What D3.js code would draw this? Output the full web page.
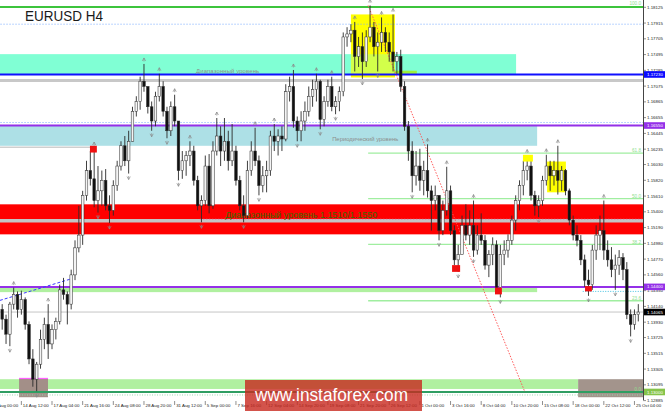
<!DOCTYPE html>
<html><head><meta charset="utf-8">
<script src="https://cdn.jsdelivr.net/npm/d3@7"></script>
<style>body{margin:0;background:#fff;}svg{display:block;}</style>
</head><body>
<svg id="c" width="665" height="411"></svg>
<script>
// ---------- DATA (EURUSD, 8h candles) ----------
const firstOpen = 1.1410;
const highs = [
1.1417,1.1403,1.1420,1.1439,1.1434,1.1435,1.1426,1.1394,1.1357,1.1340,
1.1383,1.1399,1.1417,1.1390,1.1399,1.1443,1.1452,1.1434,1.1463,1.1502,
1.1548,1.1568,1.1608,1.1621,1.1625,1.1601,1.1595,1.1597,1.1562,1.1582,
1.1608,1.1634,1.1641,1.1648,1.1680,1.1694,1.1720,1.1737,1.1707,1.1687,
1.1700,1.1724,1.1714,1.1680,1.1687,1.1696,1.1661,1.1621,1.1621,1.1634,
1.1628,1.1588,1.1562,1.1615,1.1617,1.1634,1.1665,1.1654,1.1665,1.1648,
1.1657,1.1628,1.1588,1.1562,1.1608,1.1634,1.1652,1.1615,1.1601,1.1608,
1.1648,1.1657,1.1650,1.1654,1.1710,1.1720,1.1729,1.1667,1.1674,1.1687,
1.1707,1.1716,1.1724,1.1716,1.1694,1.1716,1.1720,1.1694,1.1707,1.1779,
1.1786,1.1790,1.1793,1.1773,1.1779,1.1782,1.1815,1.1793,1.1779,1.1799,
1.1786,1.1779,1.1803,1.1753,1.1756,1.1714,1.1661,1.1634,1.1621,1.1624,
1.1608,1.1630,1.1575,1.1575,1.1562,1.1555,1.1600,1.1575,1.1522,1.1496,
1.1535,1.1550,1.1542,1.1555,1.1522,1.1538,1.1509,1.1489,1.1506,1.1502,
1.1496,1.1502,1.1510,1.1535,1.1562,1.1582,1.1608,1.1615,1.1608,1.1568,
1.1562,1.1588,1.1616,1.1608,1.1608,1.1628,1.1601,1.1597,1.1571,1.1535,
1.1522,1.1509,1.1483,1.1463,1.1496,1.1522,1.1535,1.1555,1.1502,1.1493,
1.1483,1.1489,1.1485,1.1473,1.1410,1.1410,1.1417];
const lows = [
1.1383,1.1364,1.1361,1.1410,1.1399,1.1403,1.1383,1.1337,1.1307,1.1301,
1.1331,1.1357,1.1344,1.1357,1.1370,1.1390,1.1423,1.1390,1.1410,1.1449,
1.1486,1.1496,1.1555,1.1575,1.1546,1.1539,1.1548,1.1542,1.1525,1.1535,
1.1568,1.1595,1.1601,1.1591,1.1634,1.1667,1.1676,1.1700,1.1671,1.1648,
1.1654,1.1687,1.1667,1.1638,1.1641,1.1654,1.1582,1.1584,1.1588,1.1601,
1.1575,1.1542,1.1526,1.1548,1.1538,1.1544,1.1615,1.1601,1.1608,1.1595,
1.1601,1.1575,1.1542,1.1526,1.1531,1.1588,1.1601,1.1562,1.1566,1.1566,
1.1588,1.1621,1.1615,1.1621,1.1634,1.1687,1.1652,1.1634,1.1634,1.1648,
1.1667,1.1680,1.1687,1.1650,1.1654,1.1680,1.1674,1.1670,1.1674,1.1694,
1.1760,1.1766,1.1727,1.1733,1.1717,1.1733,1.1766,1.1747,1.1727,1.1753,
1.1753,1.1740,1.1727,1.1724,1.1700,1.1648,1.1608,1.1566,1.1575,1.1568,
1.1562,1.1559,1.1515,1.1542,1.1502,1.1509,1.1535,1.1509,1.1469,1.1460,
1.1483,1.1502,1.1496,1.1480,1.1483,1.1496,1.1463,1.1453,1.1469,1.1434,
1.1426,1.1469,1.1479,1.1496,1.1515,1.1542,1.1562,1.1582,1.1555,1.1535,
1.1533,1.1548,1.1575,1.1568,1.1575,1.1563,1.1568,1.1562,1.1522,1.1502,
1.1494,1.1469,1.1440,1.1428,1.1436,1.1476,1.1489,1.1476,1.1467,1.1453,
1.1436,1.1456,1.1449,1.1397,1.1374,1.1383,1.1394];
const closes = [
1.1397,1.1377,1.1417,1.1430,1.1410,1.1423,1.1390,1.1344,1.1317,1.1337,
1.1370,1.1390,1.1364,1.1383,1.1394,1.1436,1.1430,1.1417,1.1456,1.1492,
1.1509,1.1562,1.1595,1.1584,1.1555,1.1568,1.1582,1.1548,1.1542,1.1575,
1.1601,1.1628,1.1608,1.1634,1.1674,1.1687,1.1714,1.1707,1.1680,1.1661,
1.1694,1.1707,1.1674,1.1648,1.1680,1.1661,1.1595,1.1608,1.1615,1.1621,
1.1582,1.1548,1.1555,1.1601,1.1548,1.1621,1.1641,1.1621,1.1634,1.1608,
1.1621,1.1582,1.1548,1.1535,1.1595,1.1621,1.1608,1.1575,1.1588,1.1595,
1.1641,1.1634,1.1641,1.1637,1.1700,1.1707,1.1661,1.1648,1.1661,1.1674,
1.1694,1.1703,1.1714,1.1663,1.1687,1.1707,1.1680,1.1687,1.1700,1.1773,
1.1777,1.1782,1.1747,1.1760,1.1740,1.1773,1.1786,1.1760,1.1766,1.1779,
1.1766,1.1753,1.1740,1.1747,1.1707,1.1654,1.1621,1.1588,1.1601,1.1582,
1.1595,1.1568,1.1555,1.1562,1.1515,1.1542,1.1568,1.1515,1.1476,1.1483,
1.1522,1.1509,1.1522,1.1489,1.1509,1.1502,1.1469,1.1483,1.1496,1.1439,
1.1483,1.1489,1.1502,1.1529,1.1555,1.1575,1.1595,1.1601,1.1562,1.1548,
1.1555,1.1582,1.1601,1.1588,1.1595,1.1582,1.1595,1.1568,1.1529,1.1509,
1.1502,1.1476,1.1449,1.1443,1.1489,1.1509,1.1515,1.1489,1.1476,1.1463,
1.1469,1.1479,1.1463,1.1403,1.1390,1.1403,1.14065];

const xTickLabels = ["10 Aug 00:00","14 Aug 12:00","17 Aug 04:00","21 Aug 16:00","24 Aug 08:00","28 Aug 20:00","31 Aug 12:00","5 Sep 00:00","7 Sep 16:00","12 Sep 04:00","14 Sep 20:00","19 Sep 08:00","21 Sep 20:00","26 Sep 12:00","1 Oct 00:00","3 Oct 16:00","8 Oct 04:00","10 Oct 20:00","15 Oct 08:00","18 Oct 00:00","22 Oct 12:00","25 Oct 04:00"];
const xTickIndex = [-3,5,13,21,29,37,45,53,61,69,77,85,93,101,109,117,125,133,141,149,157,165];
const yTickLabels = ["1.18125","1.17915","1.17705","1.17495","1.17285","1.17075","1.16865","1.16655","1.16445","1.16235","1.16030","1.15820","1.15610","1.15400","1.15190","1.14980","1.14770","1.14560","1.14350","1.14140","1.13930","1.13725","1.13515","1.13305","1.13095","1.12885"];

// horizontal levels: [price, label]
const markedPrices = [[1.1723,"1.17230"],[1.1655,"1.16550"],[1.1440,"1.14400"],[1.14065,"1.14065"],[1.1300,"1.13000"]];
const fiboHigh = 1.1815, fiboLow = 1.1300, fiboStart = 95.5;
const fiboLevels = [100.0, 61.8, 50.0, 38.2, 23.6, 0.0];
// zones: [fromIndex, toIndex, topPrice, bottomPrice]
const zoneAqua = [-2, 134.1, 1.1750, 1.1723];
const zoneBlue = [-2, 139.6, 1.1655, 1.1628];
const zoneRed = [-2, 170, 1.1550, 1.1510];
const zoneGreenMid = [-2, 139.6, 1.1440, 1.1433];
const zoneGreenLow = [-2, 150.3, 1.1317, 1.1304];
const zoneBrownL = [4.4, 11.95, 1.1318, 1.1293];
const zoneBrownR = [150.3, 170, 1.1317, 1.1293];
const zoneYellowTop = [91.0, 102.5, 1.1803, 1.1719];
const zoneLime = [102.2, 108.2, 1.1728, 1.1723];
const zoneYellowMid = [142.2, 147.1, 1.1607, 1.1566];
const yellowSquares = [[135.9, 138.5, 1.1616, 1.1607]];
const redSquares = [[22.9,24.7,1.1628,1.1619],[117.4,119.5,1.1469,1.1460],[128.6,130.4,1.1439,1.1430],[152.1,153.9,1.1441,1.1434]];
const trendBlue = [[-0.6, 1.1422],[18.2, 1.1451]];
const trendRed = [[95.5, 1.1815],[136.4, 1.1300]];

// ---------- DRAW ----------
const FONT = "'Liberation Sans', Arial, sans-serif";
const svg = d3.select('#c');
const PR = 643, PB = 400;
const x = d3.scaleLinear().domain([0, closes.length - 1]).range([2.2, 638.3]);
const y = d3.scaleLinear().domain([1.12885, 1.18125]).range([400.6, 7.3]);
svg.append('rect').attr('width',665).attr('height',411).attr('fill','#fff');
svg.append('defs').append('clipPath').attr('id','clip').append('rect').attr('x',0).attr('y',0).attr('width',PR).attr('height',PB);
const g = svg.append('g').attr('clip-path','url(#clip)');

function zone(z, fill, op){
  return g.append('rect').attr('x',x(z[0])).attr('width',x(z[1])-x(z[0]))
    .attr('y',y(z[2])).attr('height',y(z[3])-y(z[2])).attr('fill',fill).attr('opacity',op==null?1:op);
}
function hline(i0,i1,p,stroke,w,dash){
  const l = g.append('line').attr('x1',x(i0)).attr('x2',x(i1)).attr('y1',y(p)).attr('y2',y(p))
    .attr('stroke',stroke).attr('stroke-width',w);
  if(dash) l.attr('stroke-dasharray',dash);
  return l;
}
const L = -2, R = 170;

zone(zoneAqua,'#80ffd4');
zone(zoneYellowTop,'#ffff00');
zone(zoneAqua,'#80ffd4',0.35);
zone(zoneLime,'#9cf03c');
zone(zoneBlue,'#ade0e6');
zone(zoneRed,'#ff0000');
hline(L,R,1.1528,'#c4c4c4',3.5);
hline(51.6,R,1.1530,'#d890b0',1,'1.5,1.5');
zone(zoneGreenMid,'#b0f0a0');
zone(zoneGreenLow,'#b0f0a0');
zone(zoneBrownL,'#a38f88');
g.append('line').attr('x1',x(zoneBrownL[0])).attr('x2',x(zoneBrownL[1])).attr('y1',y(zoneBrownL[2])).attr('y2',y(zoneBrownL[2])).attr('stroke','#ff60ff').attr('stroke-width',1.2);
zone(zoneBrownR,'#a3948c');
zone(zoneYellowMid,'#ffff00');

// level lines
hline(L,R,1.1813,'#3cc43c',2);
hline(L,R,1.1790,'#78aaff',1,'1,2');
hline(L,R,1.1715,'#c8c8c8',3);
hline(L,R,1.1723,'#1010ff',2);
hline(L,R,1.1659,'#78aaff',1,'1,2');
hline(L,R,1.1655,'#9430e8',2);
hline(L,24,1.1626,'#cfcfcf',1.5);
hline(L,R,1.1440,'#9430e8',2);
hline(151.5,R,1.1434,'#40c0e0',1,'1,1.5');
hline(L,R,1.14065,'#c6c6c6',1);
hline(L,R,1.1300,'#2f9e62',2);
hline(L,R,1.1296,'#9ad8b0',1,'1,1.5');

// fibonacci levels
const fiboPrice = lv => fiboLow + (fiboHigh - fiboLow) * lv / 100;
fiboLevels.filter(lv => lv !== 100 && lv !== 0).forEach(lv => hline(fiboStart, R, fiboPrice(lv), '#a0eea0', 1.3));

// level texts
g.append('text').attr('x',x(50.6)).attr('y',y(1.1725)).text('Диапазонный  уровень')
  .attr('font-family',FONT).attr('font-size',5.9).attr('fill','#8c8c8c').attr('textLength',63);
g.append('text').attr('x',x(86.1)).attr('y',y(1.1634)).text('Периодический уровень')
  .attr('font-family',FONT).attr('font-size',5.9).attr('fill','#8c8c8c');
g.append('text').attr('x',x(58.2)).attr('y',y(1.1532)).text('Диапазонный  уровень 1.1510/1.1550')
  .attr('font-family',FONT).attr('font-size',9).attr('fill','#3a6b00').attr('textLength',152).attr('lengthAdjust','spacingAndGlyphs');

// trend lines
const tl = d3.line().x(d=>x(d[0])).y(d=>y(d[1]));
g.append('path').attr('d',tl(trendRed)).attr('stroke','#ff5a5a').attr('stroke-width',1).attr('stroke-dasharray','1.5,1.5').attr('fill','none');
g.append('path').attr('d',tl(trendBlue)).attr('stroke','#3a3aff').attr('stroke-width',1).attr('stroke-dasharray','3,2').attr('fill','none');

// candles
const data = closes.map((c,i)=>{ const o = i ? closes[i-1] : firstOpen; return {i,o,c,h:Math.max(highs[i],o,c),l:Math.min(lows[i],o,c)}; });
g.selectAll('line.wick').data(data).join('line').attr('class','wick')
  .attr('x1',d=>x(d.i)).attr('x2',d=>x(d.i)).attr('y1',d=>y(d.h)).attr('y2',d=>y(d.l))
  .attr('stroke','#2a2a2a').attr('stroke-width',0.9);
g.selectAll('rect.body').data(data).join('rect').attr('class','body')
  .attr('x',d=>x(d.i)-1.3).attr('width',2.6)
  .attr('y',d=>y(Math.max(d.o,d.c))).attr('height',d=>Math.max(0.7,Math.abs(y(d.o)-y(d.c))))
  .attr('fill',d=>d.c>=d.o?'#f4f4f4':'#111').attr('stroke','#2a2a2a').attr('stroke-width',0.5);

// fractals
const up=[], dn=[];
for(let i=2;i<data.length-2;i++){
  const h=data[i].h, l=data[i].l;
  if(h>data[i-1].h&&h>data[i-2].h&&h>=data[i+1].h&&h>=data[i+2].h) up.push(data[i]);
  if(l<data[i-1].l&&l<data[i-2].l&&l<=data[i+1].l&&l<=data[i+2].l) dn.push(data[i]);
}
g.selectAll('path.fu').data(up).join('path').attr('class','fu')
  .attr('d',d=>`M${x(d.i)-1.6},${y(d.h)-3}L${x(d.i)},${y(d.h)-6}L${x(d.i)+1.6},${y(d.h)-3}M${x(d.i)},${y(d.h)-6}V${y(d.h)-2.5}`)
  .attr('stroke','#8a8a8a').attr('stroke-width',0.7).attr('fill','none');
g.selectAll('path.fd').data(dn).join('path').attr('class','fd')
  .attr('d',d=>`M${x(d.i)-1.6},${y(d.l)+3}L${x(d.i)},${y(d.l)+6}L${x(d.i)+1.6},${y(d.l)+3}M${x(d.i)},${y(d.l)+6}V${y(d.l)+2.5}`)
  .attr('stroke','#8a8a8a').attr('stroke-width',0.7).attr('fill','none');

// squares
redSquares.forEach(s=>zone(s,'#f01010'));
yellowSquares.forEach(s=>zone(s,'#ffff00'));

// fibo labels
fiboLevels.forEach(lv=>{
  g.append('text').attr('x',641).attr('y',y(fiboPrice(lv))-0.6).attr('text-anchor','end')
   .text(lv.toFixed(1)).attr('font-family',FONT).attr('font-size',4.6).attr('fill','#8ee08e');
});

// right axis
svg.append('line').attr('x1',PR+0.5).attr('x2',PR+0.5).attr('y1',0).attr('y2',PB).attr('stroke','#444').attr('stroke-width',1);
yTickLabels.forEach(t=>{
  const v=+t;
  svg.append('line').attr('x1',PR).attr('x2',PR+3).attr('y1',y(v)).attr('y2',y(v)).attr('stroke','#444').attr('stroke-width',0.6);
  svg.append('text').attr('x',PR+4).attr('y',y(v)).attr('dy','0.35em').text(t)
    .attr('font-family',FONT).attr('font-size',4.4).attr('fill','#222');
});
const markColors = ['#0a0aff','#9430e8','#9430e8','#000000','#86c44a'];
markedPrices.forEach((m,k)=>{
  svg.append('rect').attr('x',PR+1).attr('y',y(m[0])-3.3).attr('width',22).attr('height',6.6).attr('fill',markColors[k]);
  svg.append('text').attr('x',PR+4).attr('y',y(m[0])).attr('dy','0.35em').text(m[1])
    .attr('font-family',FONT).attr('font-size',4.4).attr('fill','#fff');
});

// bottom axis
xTickIndex.forEach((ix,k)=>{
  const xx=x(ix);
  svg.append('line').attr('x1',xx).attr('x2',xx).attr('y1',PB+1).attr('y2',PB+5).attr('stroke','#444').attr('stroke-width',0.6);
  svg.append('text').attr('x',xx+1.5).attr('y',PB+7.4).text(xTickLabels[k])
    .attr('font-family',FONT).attr('font-size',4.4).attr('fill','#222');
});

// title
svg.append('text').attr('x',25).attr('y',20.8).text('EURUSD H4').attr('font-family',FONT)
  .attr('font-size',14.5).attr('fill','#1a1a1a').attr('textLength',78).attr('lengthAdjust','spacingAndGlyphs');

// watermark
svg.append('rect').attr('x',245).attr('y',380).attr('width',177).attr('height',31).attr('fill','rgb(200,40,30)').attr('opacity',0.8);
svg.append('text').attr('x',255).attr('y',401).text('www.instaforex.com').attr('font-family',FONT)
  .attr('font-size',18).attr('fill','#fff').attr('textLength',153).attr('lengthAdjust','spacingAndGlyphs');
</script>
</body></html>
